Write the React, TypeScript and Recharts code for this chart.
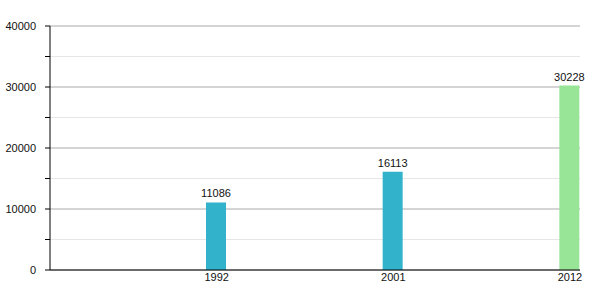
import React from 'react';
import { BarChart, Bar, XAxis, YAxis, CartesianGrid, LabelList, Cell } from 'recharts';

const years = ['1992', '2001', '2012'];
const population = [11086, 16113, 30228];
const barColors = ['#33b2cc', '#33b2cc', '#98e598'];
const majorTicks = [0, 10000, 20000, 30000, 40000];
const minorTicks = [5000, 15000, 25000, 35000];
const allTicks = [0, 5000, 10000, 15000, 20000, 25000, 30000, 35000, 40000];

const data = years.map((year, i) => ({ year, value: population[i] }));

const FONT = '"Liberation Sans", Arial, sans-serif';

// band is 530/3 wide, bar sits at its right end, so shift the label under it
const YearTick = (props: any) => {
  const { x, y, payload } = props;
  return (
    <text x={x + 78.3} y={y} dy="0.71em" textAnchor="middle" fontSize={11} fill="#111" fontFamily={FONT}>
      {payload.value}
    </text>
  );
};

const App: React.FC = () => {
  return (
    <div style={{ position: 'absolute', left: 0, top: 0, width: 600, height: 300, background: '#fff' }}>
      <BarChart
        width={600}
        height={300}
        data={data}
        margin={{ top: 26, right: 20, bottom: 0, left: 0 }}
        barGap={0}
        barCategoryGap={0}
      >
        <CartesianGrid vertical={false} horizontalValues={minorTicks} stroke="#e6e6e6" />
        <CartesianGrid vertical={false} horizontalValues={majorTicks} stroke="#aaaaaa" />
        <XAxis
          dataKey="year"
          height={30}
          tickLine={false}
          axisLine={{ stroke: '#000' }}
          tick={<YearTick />}
          tickSize={0}
          tickMargin={3}
          interval={0}
        />
        <YAxis
          width={50}
          domain={[0, 40000]}
          ticks={allTicks}
          interval={0}
          tickSize={5}
          tickMargin={9}
          tickLine={{ stroke: '#000' }}
          axisLine={{ stroke: '#000' }}
          tickFormatter={(v: number) => (v % 10000 === 0 ? String(v) : '')}
          tick={{ fontSize: 11, fill: '#111', fontFamily: FONT }}
        />
        <Bar dataKey="spacer" barSize={156} isAnimationActive={false} />
        <Bar dataKey="value" barSize={20} isAnimationActive={false}>
          {data.map((d, i) => (
            <Cell key={d.year} fill={barColors[i]} />
          ))}
          <LabelList dataKey="value" position="top" fontSize={11} fill="#111" fontFamily={FONT} />
        </Bar>
      </BarChart>
    </div>
  );
};

export default App;
